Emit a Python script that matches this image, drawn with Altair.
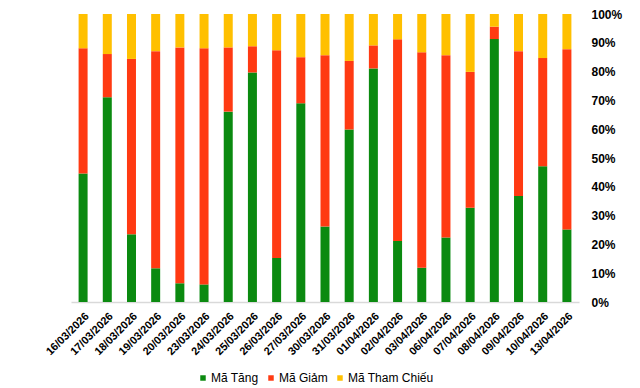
import altair as alt
import pandas as pd

dates = ["16/03/2026", "17/03/2026", "18/03/2026", "19/03/2026", "20/03/2026",
         "23/03/2026", "24/03/2026", "25/03/2026", "26/03/2026", "27/03/2026",
         "30/03/2026", "31/03/2026", "01/04/2026", "02/04/2026", "03/04/2026",
         "06/04/2026", "07/04/2026", "08/04/2026", "09/04/2026", "10/04/2026",
         "13/04/2026"]
tang = [44.6, 71.1, 23.5, 11.7, 6.5, 6.1, 66.1, 79.7, 15.3, 69.0, 26.2,
        59.9, 81.1, 21.2, 11.9, 22.4, 32.7, 91.3, 36.8, 47.1, 25.2]
giam = [43.5, 15.0, 60.9, 75.4, 81.9, 82.0, 22.3, 9.1, 72.1, 16.0, 59.5,
        23.8, 8.0, 70.0, 74.8, 63.3, 47.2, 4.3, 50.3, 37.6, 62.6]
tham_chieu = [11.9, 13.9, 15.6, 12.9, 11.6, 11.9, 11.6, 11.2, 12.6, 15.0, 14.3,
              16.3, 10.9, 8.8, 13.3, 14.3, 20.1, 4.4, 12.9, 15.3, 12.2]
series = ["Mã Tăng", "Mã Giảm", "Mã Tham Chiếu"]
colors = ["#0B8A10", "#FF3A12", "#FFC000"]

rows = []
for k, (name, vals) in enumerate(zip(series, [tang, giam, tham_chieu])):
    for d, v in zip(dates, vals):
        rows.append({"date": d, "series": name, "value": v, "order": k})
df = pd.DataFrame(rows)

FONT = "Liberation Sans"

chart = alt.Chart(df).mark_bar(size=9).encode(
    x=alt.X("date:N", sort=dates, title=None,
            scale=alt.Scale(paddingInner=0.6, paddingOuter=0.3),
            axis=alt.Axis(labelAngle=-45, labelFont=FONT, labelFontSize=11,
                          labelFontWeight="bold", labelColor="#000000",
                          ticks=False, domainColor="#d9d9d9", domainWidth=1.5,
                          labelPadding=8)),
    y=alt.Y("value:Q", stack="normalize", title=None,
            scale=alt.Scale(domain=[0, 1]),
            axis=alt.Axis(orient="right", format=".0%",
                          values=[0, 0.1, 0.2, 0.3, 0.4, 0.5, 0.6, 0.7, 0.8, 0.9, 1.0],
                          grid=False, ticks=False, domain=False,
                          labelFont=FONT, labelFontSize=12, labelFontWeight="bold",
                          labelColor="#000000", labelPadding=12)),
    color=alt.Color("series:N", title=None,
                    scale=alt.Scale(domain=series, range=colors),
                    legend=alt.Legend(orient="none", direction="horizontal",
                                      legendX=126, legendY=358,
                                      symbolType="square", symbolSize=30,
                                      symbolStrokeWidth=0,
                                      labelFont=FONT, labelFontSize=12,
                                      labelColor="#000000", columnPadding=6,
                                      labelOffset=2)),
    order=alt.Order("order:Q", sort="ascending"),
).properties(
    width=508, height=288,
    autosize=alt.AutoSizeParams(type="none"),
    padding={"left": 63, "top": 6, "right": 50, "bottom": 84},
).configure_view(stroke=None)

chart.save("out.html", embed_options={"renderer": "svg", "actions": False})
